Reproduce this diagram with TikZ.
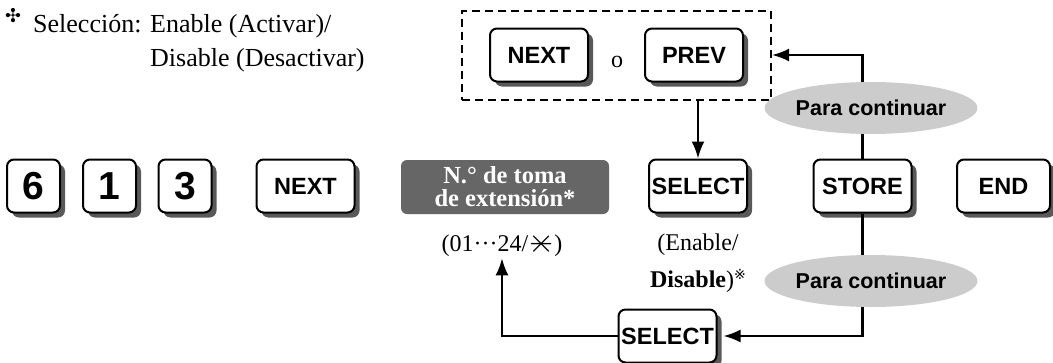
\documentclass[tikz,border=0pt]{standalone}
\usepackage{fontspec}
\setmainfont{Liberation Serif}
\setsansfont{Liberation Sans}
\newfontfamily\symfont{DejaVu Sans}
\usetikzlibrary{arrows.meta,shadows,shapes.geometric,fit}
\newcommand{\starkey}{\raisebox{-1pt}{\scalebox{1.35}{\ooalign{$\times$\cr\hidewidth$-$\hidewidth\cr}}}}
\tikzset{
  keybox/.style={draw,line width=2pt,rounded corners=7pt,fill=white,minimum height=53pt,inner sep=0pt,
    font=\sffamily\bfseries\fontsize{23.5}{23.5}\selectfont,
    drop shadow={shadow xshift=5pt,shadow yshift=-5pt,fill=black!65,opacity=1}},
  digitkey/.style={keybox,minimum width=53pt,font=\sffamily\bfseries\fontsize{39}{39}\selectfont},
  wordkey/.style={keybox,minimum width=98pt},
  contoval/.style={ellipse,fill=black!20,minimum width=167pt,minimum height=52pt,inner sep=0pt,
    font=\sffamily\bfseries\fontsize{21.5}{21.5}\selectfont},
  flow/.style={line width=2.2pt,-{Latex[length=17pt,width=13pt]}},
}
\begin{document}
\begin{tikzpicture}[x=1pt,y=-1pt,inner sep=2pt,font=\fontsize{24}{24}\selectfont]
  \useasboundingbox (0,0) rectangle (1053,362);
  % nota de seleccion
  \node[font=\symfont\fontsize{19}{19}\selectfont] (mark) at (13,16) {✣};
  \node[anchor=base west,inner sep=0pt,font=\fontsize{26}{26}\selectfont] (note1) at (33,32) {Selección: Enable (Activar)/};
  \node[anchor=base west,inner sep=0pt,font=\fontsize{26}{26}\selectfont] (note2) at (150,66) {Disable (Desactivar)};
  % fila de teclas
  \foreach \x/\d in {33.5/6,109.5/1,185/3}{\node[digitkey] (k\d) at (\x,186) {\d};}
  \node[wordkey] (next) at (305.5,186) {NEXT};
  \node[fill=black!60,rounded corners=6pt,minimum width=208pt,minimum height=54pt,inner sep=0pt,align=center,text=white,font=\bfseries\fontsize{24.5}{23}\selectfont] (ext) at (505,187) {N.° de toma\\de extensión*};
  \node[wordkey] (sel) at (698,186) {SELECT};
  \node[wordkey] (store) at (862.5,186) {STORE};
  \node[wordkey,minimum width=93pt] (endk) at (1003.5,186) {END};
  \node[anchor=base] (range) at (502,251) {(01···24/\starkey)};
  \node[anchor=base] (en) at (698,250) {(Enable/};
  \node[anchor=base] (dis) at (698,287) {\textbf{Disable})\raisebox{8pt}{\symfont\fontsize{14}{14}\selectfont ※}};
  % NEXT o PREV
  \node[wordkey] (nextb) at (539,55) {NEXT};
  \node[anchor=base] (or) at (617,67) {o};
  \node[wordkey] (prev) at (694,55) {PREV};
  \node[draw,dash pattern=on 8pt off 5pt,line width=2pt,fit=(nextb)(prev),inner xsep=27pt,inner ysep=17pt] (frame) {};
  \node[contoval] (cont1) at (871,108) {Para continuar};
  \node[contoval] (cont2) at (871,281) {Para continuar};
  \node[wordkey] (sel2) at (667.5,336) {SELECT};
  % conexiones
  \draw[flow] (sel.north |- frame.south) -- (sel.north);
  \draw[line width=2.2pt] (store.north) -- (store.north |- cont1.south);
  \draw[flow] (store.north |- cont1.north) |- (frame.east);
  \draw[line width=2.2pt] (store.south) -- (store.south |- cont2.north);
  \draw[flow,shorten >=6pt] (store.south |- cont2.south) |- (sel2.east);
  \draw[flow] (sel2.west) -| (range.south);
\end{tikzpicture}
\end{document}
